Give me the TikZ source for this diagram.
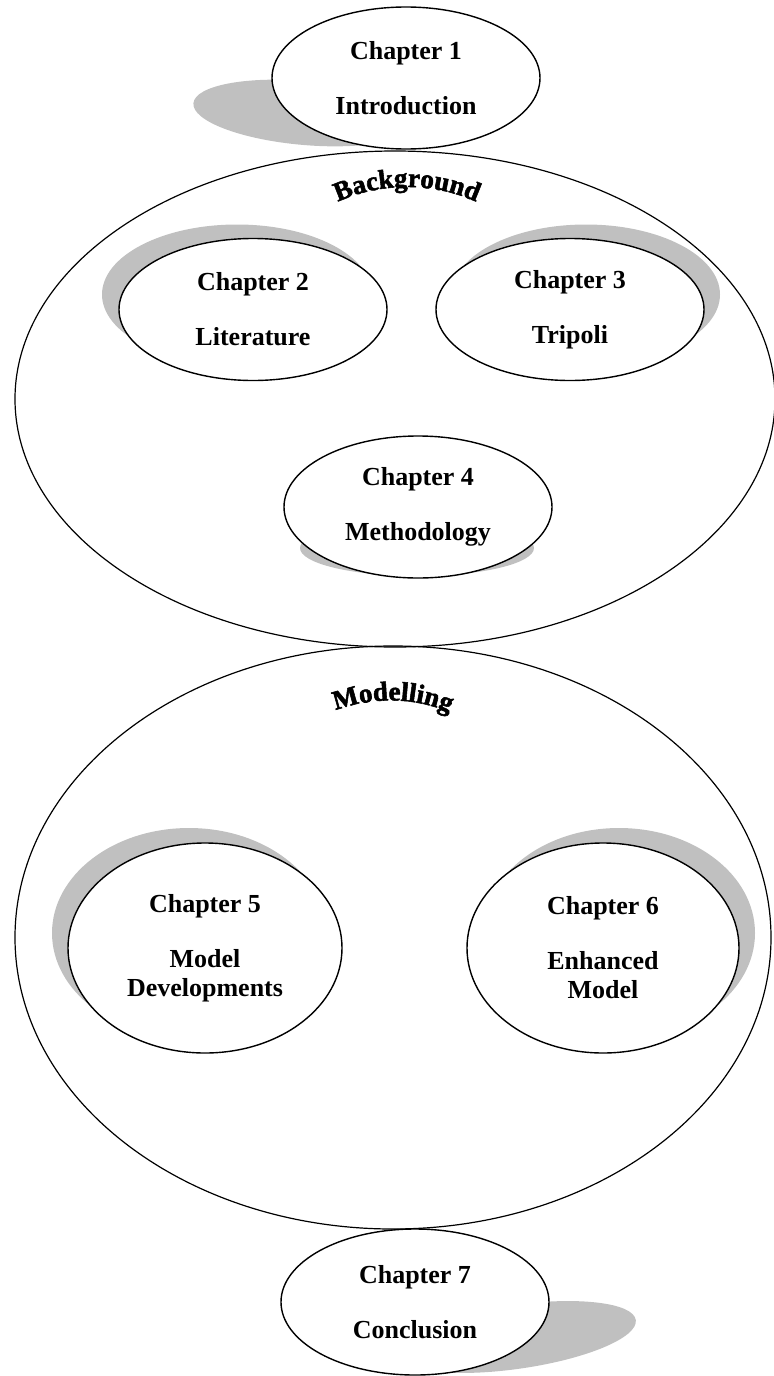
\documentclass[tikz,border=0pt]{standalone}
\usepackage{fontspec}
\setmainfont{Liberation Serif}
\newfontfamily\archfont{Liberation Serif}[FakeBold=2]
\usetikzlibrary{positioning,shapes.geometric,decorations.text}
\definecolor{shadowgray}{RGB}{192,192,192}

\begin{document}
\begin{tikzpicture}[x=0.5pt,y=-0.5pt,
    chapter/.style={ellipse,draw,line width=0.7pt,fill=white,align=center,inner sep=0pt,
      minimum width=134pt,minimum height=71pt,font=\bfseries\fontsize{13}{14.5}\selectfont},
    part/.style={ellipse,draw,line width=0.6pt,inner sep=0pt},
    chshadow/.style={fill=shadowgray},
    arch/.style={decorate,decoration={text along path,text align=center,
      text={|\archfont\bfseries\fontsize{13.5}{16}\selectfont|#1}}}]
    \useasboundingbox (0,0) rectangle (773,1376);
    % the two parts
    \node[part,minimum width=380pt,minimum height=248pt] (bg) at (395,399) {};
    \node[part,minimum width=378pt,minimum height=291.5pt] (mdl) at (393,937.5) {};
    \path[arch=Background] (326,208) .. controls (374,180) and (440,180) .. (488,208);
    \path[arch=Modelling] (318,718) .. controls (366,694) and (420,694) .. (467,721);
    % shadows
    \fill[chshadow,rotate around={-5:(305,113)}] (305,113) ellipse [x radius=112,y radius=32];
    \fill[chshadow] (237,294.5) ellipse [x radius=135,y radius=70];
    \fill[chshadow] (586,294.5) ellipse [x radius=134,y radius=70];
    \fill[chshadow] (417,548) ellipse [x radius=117,y radius=28];
    \fill[chshadow] (189,933) ellipse [x radius=137,y radius=105];
    \fill[chshadow] (619,933) ellipse [x radius=136,y radius=105];
    \fill[chshadow,rotate around={8:(515,1337)}] (515,1337) ellipse [x radius=122,y radius=32];
    % chapters
    \node[chapter] (ch1) at (406,78) {Chapter 1\\[13pt]Introduction};
    \node[chapter] (ch2) at (253,309.5) {Chapter 2\\[13pt]Literature};
    \node[chapter] (ch3) at (570,309.5) {Chapter 3\\[13pt]Tripoli};
    \node[chapter] (ch4) at (418,507) {Chapter 4\\[13pt]Methodology};
    \node[chapter,minimum width=137pt,minimum height=105pt] (ch5) at (205,948) {Chapter 5\\[13pt]Model\\Developments};
    \node[chapter,minimum width=136pt,minimum height=105pt] (ch6) at (603,948) {Chapter 6\\[13pt]Enhanced\\Model};
    \node[chapter,minimum height=73pt] (ch7) at (415,1302) {Chapter 7\\[13pt]Conclusion};
\end{tikzpicture}
\end{document}
